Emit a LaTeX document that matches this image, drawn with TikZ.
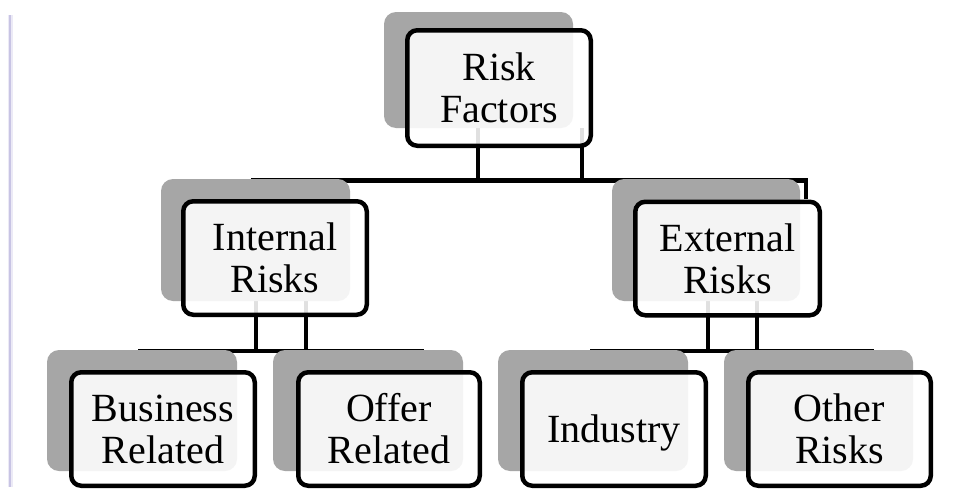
\documentclass[tikz,border=0pt]{standalone}
\usepackage{fontspec}
\setmainfont{Liberation Serif}
\definecolor{shadowgray}{RGB}{166,166,166}
\definecolor{lavender}{RGB}{200,196,228}
\begin{document}
\begin{tikzpicture}[x=1pt,y=-1pt,
  shadowbox/.style={fill=shadowgray, draw=none, rounded corners=12pt, inner sep=0pt},
  frontbox/.style={draw=black, line width=4.5pt, fill=white, fill opacity=0.88, text opacity=1,
    rounded corners=10pt, inner sep=0pt, align=center, font=\fontsize{40}{42}\selectfont,
    minimum width=183.5pt, minimum height=113.5pt},
  conn/.style={draw=black, line width=4.5pt}]
\useasboundingbox (0,0) rectangle (959,490);
\fill[white] (0,0) rectangle (959,490);
% left margin rule
\draw[lavender!35, line width=5pt] (10,15) -- (10,487);
\draw[lavender, line width=1.5pt] (10,15) -- (10,487);

% connector coordinates
\coordinate (r1) at (478,128);
\coordinate (r2) at (582,128);
\coordinate (ie) at (253,180.5);
\coordinate (ee) at (806,180.5);
\coordinate (i1) at (256,301);
\coordinate (i2) at (306,301);
\coordinate (be) at (140,351);
\coordinate (oe) at (422,351);
\coordinate (e1) at (708,301);
\coordinate (e2) at (757,301);
\coordinate (ne) at (592,351);
\coordinate (te) at (872,351);

% connectors
\draw[conn] (r1) -- (r1 |- ie);
\draw[conn] (r2) -- (r2 |- ee);
\draw[conn] (ie |- 0,199) -- (ie) -- (ee) -- (ee |- 0,199);
\draw[conn] (i1) -- (i1 |- be);
\draw[conn] (i2) -- (i2 |- oe);
\draw[conn] (be |- 0,371) -- (be) -- (oe) -- (oe |- 0,371);
\draw[conn] (e1) -- (e1 |- ne);
\draw[conn] (e2) -- (e2 |- te);
\draw[conn] (ne |- 0,371) -- (ne) -- (te) -- (te |- 0,371);

% shadows
\node[shadowbox, minimum width=189pt, minimum height=116pt] (rs) at (478.5,70) {};
\node[shadowbox, minimum width=189pt, minimum height=122pt] (is) at (255.5,240) {};
\node[shadowbox, minimum width=188pt, minimum height=122pt] (es) at (706,240) {};
\node[shadowbox, minimum width=190pt, minimum height=121pt] (bs) at (142,410.5) {};
\node[shadowbox, minimum width=190pt, minimum height=121pt] (os) at (368,410.5) {};
\node[shadowbox, minimum width=190pt, minimum height=121pt] (ns) at (593,410.5) {};
\node[shadowbox, minimum width=189pt, minimum height=121pt] (ts) at (818.5,410.5) {};

% front boxes
\node[frontbox, minimum height=115.5pt] (risk) at (499,88) {Risk\\Factors};
\node[frontbox] (internal) at (275,258) {Internal\\Risks};
\node[frontbox, minimum width=184.5pt] (external) at (727.5,258.5) {External\\Risks};
\node[frontbox] (business) at (163,429) {Business\\Related};
\node[frontbox, minimum width=181.5pt] (offer) at (389,429) {Offer\\Related};
\node[frontbox] (industry) at (614,429) {\raisebox{0pt}[\height][0pt]{Industry}};
\node[frontbox, minimum width=182.5pt] (other) at (839.5,429) {Other\\Risks};
\end{tikzpicture}
\end{document}
